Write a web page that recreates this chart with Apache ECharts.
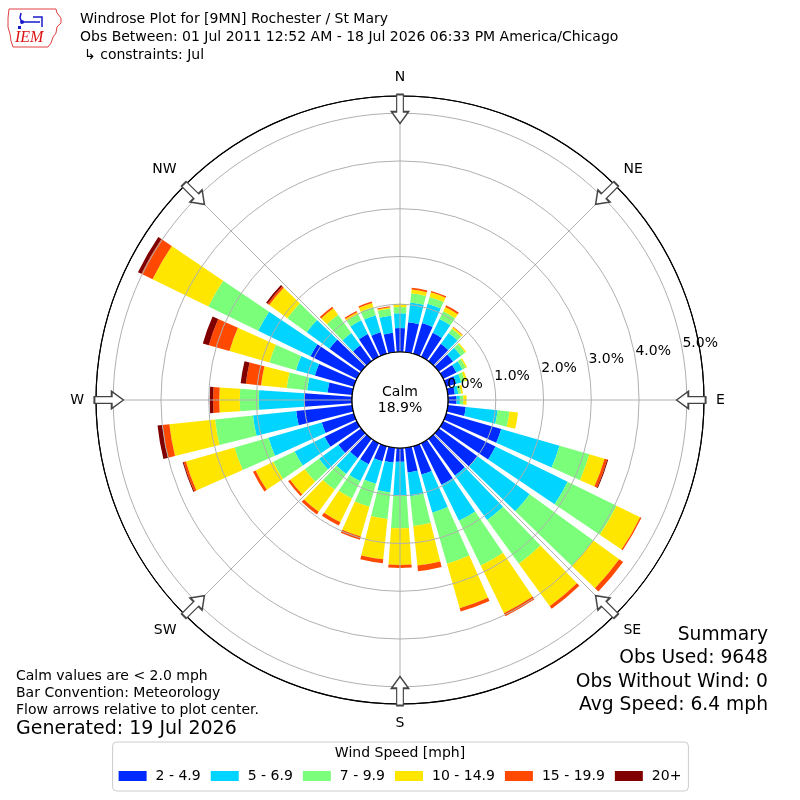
<!DOCTYPE html>
<html><head><meta charset="utf-8">
<script src="https://cdn.jsdelivr.net/npm/echarts@6/dist/echarts.min.js"></script>
<style>html,body{margin:0;padding:0;background:#fff}#c{width:800px;height:800px}</style>
</head><body><div id="c"></div>
<script>
// ---- data (percent of observations) ----
const directions = [0,10,20,30,40,50,60,70,80,90,100,110,120,130,140,150,160,170,180,190,200,210,220,230,240,250,260,270,280,290,300,310,320,330,340,350];
const speedBins = ['2 - 4.9','5 - 6.9','7 - 9.9','10 - 14.9','15 - 19.9','20+'];
const binColors = ['#002aff','#00d4ff','#7bff7b','#ffe600','#ff4900','#800000'];
const speed2to5   = [0.50,0.63,0.67,0.56,0.45,0.37,0.31,0.22,0.15,0.18,0.38,1.20,1.22,1.00,0.95,0.97,0.62,0.52,0.29,0.31,0.33,0.49,0.50,0.59,0.75,0.70,1.18,1.00,0.52,0.85,1.08,0.82,0.41,0.53,0.47,0.41];
const speed5to7   = [0.31,0.42,0.42,0.32,0.28,0.20,0.14,0.11,0.07,0.07,0.67,1.27,1.68,1.35,1.15,0.84,0.83,0.50,0.70,0.63,0.49,0.40,0.41,0.50,0.70,1.16,0.91,0.95,0.43,0.41,1.22,0.59,0.32,0.32,0.37,0.36];
const speed7to10  = [0.13,0.19,0.15,0.18,0.11,0.11,0.08,0.08,0.06,0.07,0.25,0.65,1.14,1.65,1.13,1.04,1.11,0.63,0.69,0.56,0.50,0.40,0.41,0.37,0.50,0.74,0.80,0.40,0.43,0.58,1.16,0.50,0.47,0.14,0.18,0.15];
const speed10to15 = [0.07,0.08,0.10,0.10,0.04,0.03,0.03,0.05,0.04,0.07,0.18,0.33,0.55,0.67,1.10,1.11,0.97,0.83,0.77,0.85,0.65,0.55,0.57,0.38,0.41,1.06,0.96,0.43,0.54,0.87,1.30,0.47,0.17,0.05,0.09,0.03];
const speed15to20 = [0.00,0.04,0.03,0.04,0.01,0.00,0.00,0.00,0.00,0.00,0.00,0.06,0.03,0.10,0.07,0.07,0.07,0.12,0.06,0.08,0.07,0.08,0.07,0.05,0.06,0.05,0.15,0.13,0.32,0.45,0.26,0.04,0.04,0.03,0.03,0.02];
const speed20plus = [0,0,0,0,0,0,0,0,0,0,0,0.02,0,0,0,0,0,0,0,0,0,0,0,0,0,0.02,0.10,0.07,0.11,0.13,0.08,0.04,0,0,0,0];
const compassLabels = ['N','NE','E','SE','S','SW','W','NW'];
const compassAngles = [0,45,90,135,180,225,270,315];
const calmPercent = 18.9;
const obsUsed = 9648;
const obsWithoutWind = 0;
const avgSpeed = 6.4;
const radialMax = 5.36;
const arrowRadius = 5.09;

const binValues = [speed2to5, speed5to7, speed7to10, speed10to15, speed15to20, speed20plus];
const FONT = 'DejaVu Sans';
const chart = echarts.init(document.getElementById('c'));

const series = speedBins.map((name, i) => ({
  name, type: 'bar', coordinateSystem: 'polar', polarIndex: 0, stack: 'rose',
  data: binValues[i], barCategoryGap: '20%', itemStyle: { color: binColors[i] },
  z: 2, silent: true
}));
series.push({
  type: 'scatter', coordinateSystem: 'polar', polarIndex: 1,
  data: compassAngles.map(a => [arrowRadius, a]),
  symbol: 'path://M8.5,0 L17,11.7 L11.85,11.7 L11.85,29 L5.15,29 L5.15,11.7 L0,11.7 Z',
  symbolSize: [17, 29],
  symbolRotate: (v) => 180 - v[1],
  itemStyle: { color: '#ffffff', borderColor: '#444444', borderWidth: 1.5, opacity: 1 },
  z: 10, silent: true
});

const txt = (x, y, text, size, align, extra) => Object.assign({
  type: 'text', x, y, z: 100,
  style: { text, font: size + 'px "' + FONT + '"', fill: '#000', align: align || 'left', verticalAlign: 'middle' }
}, extra || {});

chart.setOption({
  animation: false,
  backgroundColor: '#fff',
  polar: [
    { center: ['50%', '50%'], radius: [48, 304] },
    { center: ['50%', '50%'], radius: [48, 304] },
    { center: ['50%', '50%'], radius: [48, 304] }
  ],
  angleAxis: [
    { polarIndex: 0, type: 'category', data: directions.map(String), startAngle: 95, clockwise: true, show: false },
    { polarIndex: 1, type: 'value', min: 0, max: 360, interval: 45, startAngle: 90, clockwise: true, z: 3,
      axisLine: { show: true, lineStyle: { color: '#000', width: 1.2 } },
      axisTick: { show: false },
      splitLine: { show: true, lineStyle: { color: '#b0b0b0', width: 1 } },
      axisLabel: { show: true, margin: 12, fontSize: 14, fontFamily: FONT, color: '#000',
        formatter: v => v >= 360 ? '' : compassLabels[Math.round(v / 45)] } },
    { polarIndex: 2, type: 'value', min: 0, max: 360, startAngle: 10, show: false }
  ],
  radiusAxis: [
    { polarIndex: 0, type: 'value', min: 0, max: radialMax, show: false },
    { polarIndex: 1, type: 'value', min: 0, max: radialMax, interval: 1, z: 3,
      axisLine: { show: false }, axisTick: { show: false }, axisLabel: { show: false },
      splitLine: { show: true, lineStyle: { color: ['#b0b0b0','#b0b0b0','#b0b0b0','#b0b0b0','#b0b0b0','#b0b0b0','#000'], width: 1 } } },
    { polarIndex: 2, type: 'value', min: 0, max: radialMax, interval: 1, z: 4,
      axisLine: { show: false }, axisTick: { show: false }, splitLine: { show: false },
      axisLabel: { show: true, margin: 0, align: 'left', verticalAlign: 'bottom', fontSize: 14, fontFamily: FONT, color: '#000',
        formatter: v => Math.abs(v - Math.round(v)) < 1e-6 ? v.toFixed(1) + '%' : '' } }
  ],
  legend: {
    data: speedBins, left: 'center', top: 742, orient: 'horizontal',
    icon: 'rect', itemWidth: 28, itemHeight: 10, itemGap: 10,
    padding: [27, 7, 8, 6], borderColor: '#cccccc', borderWidth: 1, borderRadius: 4,
    textStyle: { fontSize: 14, fontFamily: FONT, color: '#000', padding: [0, 0, 0, 4] },
    selectedMode: false
  },
  series,
  graphic: [
    { type: 'circle', z: 100, shape: { cx: 400, cy: 400, r: 48 }, style: { fill: '#fff', stroke: '#000', lineWidth: 1.2 } },
    txt(400, 392, 'Calm', 14, 'center'),
    txt(400, 408, calmPercent.toFixed(1) + '%', 14, 'center'),
    txt(80, 19, 'Windrose Plot for [9MN] Rochester / St Mary', 14),
    txt(80, 37, 'Obs Between: 01 Jul 2011 12:52 AM - 18 Jul 2026 06:33 PM America/Chicago', 14),
    txt(84, 55, '↳ constraints: Jul', 14),
    txt(768, 635, 'Summary', 18.7, 'right'),
    txt(768, 658, 'Obs Used: ' + obsUsed, 18.7, 'right'),
    txt(768, 682, 'Obs Without Wind: ' + obsWithoutWind, 18.7, 'right'),
    txt(768, 705, 'Avg Speed: ' + avgSpeed.toFixed(1) + ' mph', 18.7, 'right'),
    txt(16, 676, 'Calm values are < 2.0 mph', 14),
    txt(16, 693, 'Bar Convention: Meteorology', 14),
    txt(16, 710, 'Flow arrows relative to plot center.', 14),
    txt(16, 729, 'Generated: 19 Jul 2026', 19),
    txt(400, 753, 'Wind Speed [mph]', 14, 'center'),
    { type: 'group', z: 100, children: [
      { type: 'polyline', shape: { points: [[9,9],[56,9],[57,13],[61,18],[61,23],[57,27],[56,33],[53,37],[51,43],[48,47],[13,47],[11,41],[10,34],[8,27],[8,18],[9,9]] },
        style: { fill: 'none', stroke: '#e04040', lineWidth: 1 } },
      { type: 'text', x: 15, y: 38, style: { text: 'IEM', font: 'italic 16px "Liberation Serif"', fill: '#dd1111', verticalAlign: 'middle' } },
      { type: 'polyline', shape: { points: [[21,13],[20,18],[22,22],[40,22]] }, style: { fill: 'none', stroke: '#1a1acc', lineWidth: 1.5 } },
      { type: 'polyline', shape: { points: [[33,17],[42,17],[42,27]] }, style: { fill: 'none', stroke: '#1a1acc', lineWidth: 1.5 } },
      { type: 'circle', shape: { cx: 22, cy: 22, r: 2 }, style: { fill: '#1a1acc' } },
      { type: 'rect', shape: { x: 18, y: 26, width: 3, height: 3 }, style: { fill: '#1a1acc' } }
    ] }
  ]
});
</script></body></html>
